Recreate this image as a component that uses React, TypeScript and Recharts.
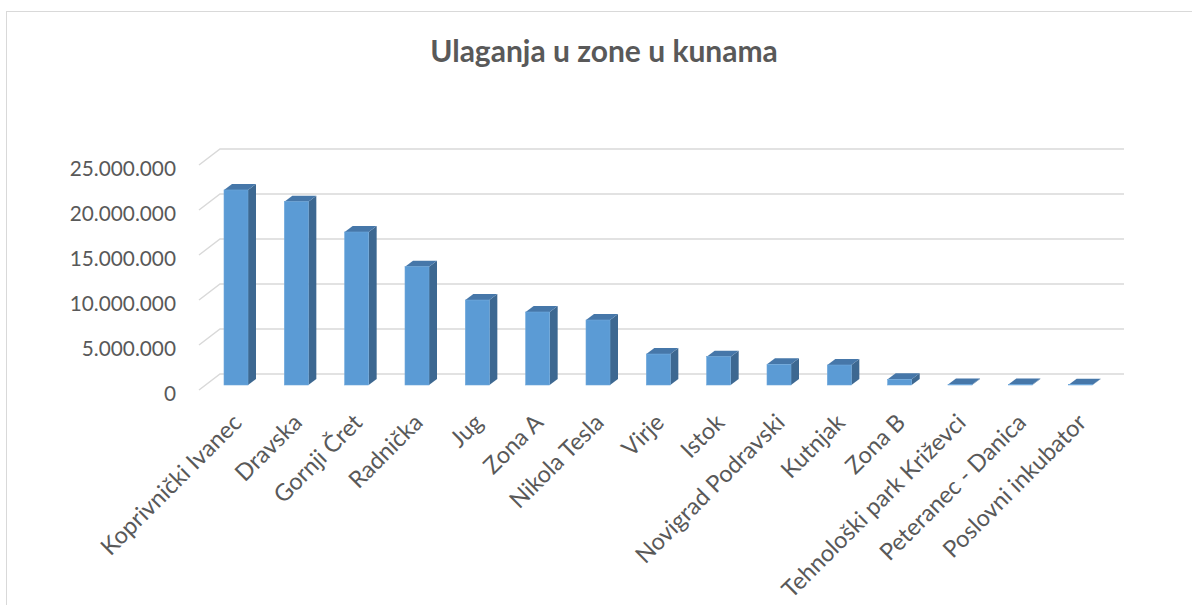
import React from 'react';
import { BarChart, Bar, XAxis, YAxis, CartesianGrid } from 'recharts';

// --- Data ---
const zones = [
  'Koprivnički Ivanec',
  'Dravska',
  'Gornji Čret',
  'Radnička',
  'Jug',
  'Zona A',
  'Nikola Tesla',
  'Virje',
  'Istok',
  'Novigrad Podravski',
  'Kutnjak',
  'Zona B',
  'Tehnološki park Križevci',
  'Peteranec - Danica',
  'Poslovni inkubator',
];

const investments = [
  21670000, 20370000, 17000000, 13150000, 9440000, 8110000, 7220000, 3440000,
  3150000, 2300000, 2220000, 630000, 60000, 45000, 35000,
];

const yTicks = [0, 5000000, 10000000, 15000000, 20000000, 25000000];

const chartData = zones.map((zone, i) => ({ zone, value: investments[i] }));

// --- Styling ---
const TEXT = '#595959';
const FONT = 'Lato, sans-serif';
const GRID = '#d9d9d9';
const DX = 8; // column depth
const DY = 6;

const formatKn = (v: number) => String(v).replace(/\B(?=(\d{3})+(?!\d))/g, '.');

// 3D-looking column: front face, right side and top
const Column3D = (props: any) => {
  const { x, y, width, height } = props;
  if (x == null || y == null) return null;
  const r = x + width;
  const b = y + height;
  return (
    <g>
      <polygon points={`${r},${y} ${r + DX},${y - DY} ${r + DX},${b - DY} ${r},${b}`} fill="#3d6891" />
      <polygon points={`${x},${y} ${x + DX},${y - DY} ${r + DX},${y - DY} ${r},${y}`} fill="#4677a9" />
      <rect x={x} y={y} width={width} height={height} fill="#5b9bd5" stroke="#6ea7db" strokeWidth={0.6} />
    </g>
  );
};

// gridline that bends from the floor's front edge onto the back wall
const wallGridLine = (props: any) => {
  const { x1, x2, y1 } = props;
  return (
    <path
      key={`grid-${y1}`}
      d={`M${x1 - 7},${y1 + 5} L${x1 + 14},${y1 - 11} L${x2 + 13},${y1 - 11}`}
      stroke={GRID}
      strokeWidth={1.5}
      fill="none"
    />
  );
};

const YTick = ({ x, y, payload }: any) => (
  <text x={x - 30} y={y + 7} textAnchor="end" dominantBaseline="central" fill={TEXT} fontSize={20.8} fontFamily={FONT}>
    {formatKn(payload.value)}
  </text>
);

const XTick = ({ x, y, payload }: any) => {
  const ax = x + 7;
  const ay = y + 39;
  return (
    <text x={ax} y={ay} transform={`rotate(-45 ${ax} ${ay})`} textAnchor="end" fill={TEXT} fontSize={23.5} fontFamily={FONT}>
      {payload.value}
    </text>
  );
};

const App = () => {
  return (
    <div style={{ position: 'absolute', left: 0, top: 0, width: 1192, height: 605, overflow: 'hidden', background: '#fff' }}>
      <BarChart
        width={1192}
        height={605}
        data={chartData}
        margin={{ top: 160, right: 81, bottom: 0, left: 0 }}
      >
        <CartesianGrid vertical={false} horizontal={wallGridLine} />
        <YAxis
          width={206}
          domain={[0, 25000000]}
          ticks={yTicks}
          axisLine={false}
          tickLine={false}
          tickSize={0}
          tickMargin={0}
          tick={<YTick />}
        />
        <XAxis
          dataKey="zone"
          height={220}
          interval={0}
          axisLine={false}
          tickLine={false}
          tickSize={0}
          tickMargin={0}
          tick={<XTick />}
        />
        <Bar dataKey="value" barSize={24} shape={<Column3D />} isAnimationActive={false} />
      </BarChart>
      <svg width={1192} height={605} style={{ position: 'absolute', left: 0, top: 0, pointerEvents: 'none' }}>
        <rect x={6.5} y={11.5} width={1300} height={700} fill="none" stroke={GRID} strokeWidth={1} />
        <text x={604} y={62} textAnchor="middle" fill={TEXT} fontSize={30} fontWeight="bold" fontFamily={FONT}>
          Ulaganja u zone u kunama
        </text>
      </svg>
    </div>
  );
};

export default App;
